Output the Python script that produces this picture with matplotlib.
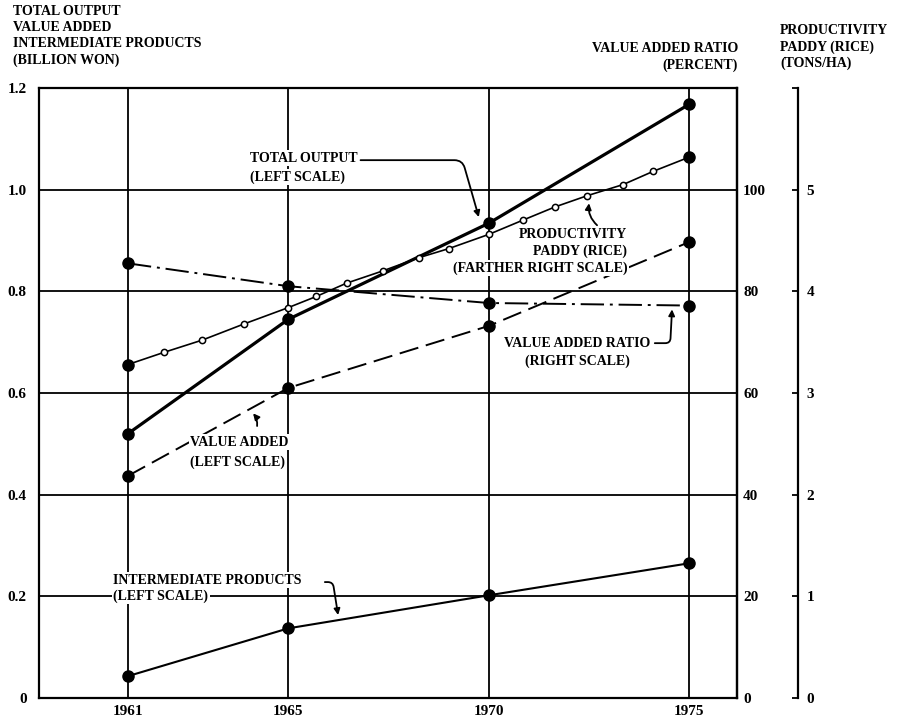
import matplotlib
matplotlib.use('Agg')
import matplotlib.pyplot as plt
import numpy as np

# benchmark years (left scale, billion won)
years = [1961, 1965, 1970, 1975]
total_output = [0.52, 0.745, 0.934, 1.168]
value_added = [0.437, 0.61, 0.732, 0.897]
intermediate = [0.043, 0.137, 0.202, 0.265]

# value added ratio (right scale, percent)
va_ratio = [85.5, 81.0, 77.7, 77.2]

# paddy rice productivity (farther right scale, tons/ha)
paddy_years = [1961, 1961.9, 1962.85, 1963.9, 1965, 1965.7, 1966.45, 1967.35,
               1968.25, 1969, 1970, 1970.85, 1971.65, 1972.45, 1973.35, 1974.1, 1975]
paddy_yield = [3.28, 3.40, 3.52, 3.68, 3.84, 3.95, 4.08, 4.20,
               4.33, 4.42, 4.56, 4.70, 4.83, 4.94, 5.05, 5.18, 5.32]

left_ticks = [0, 0.2, 0.4, 0.6, 0.8, 1.0, 1.2]
left_labels = ['0', '0.2', '0.4', '0.6', '0.8', '1.0', '1.2']
pct_ticks = [0, 20, 40, 60, 80, 100]
ton_ticks = [0, 1, 2, 3, 4, 5, 6]
ton_labels = ['0', '1', '2', '3', '4', '5', '']

plt.rcParams['font.family'] = 'Liberation Serif'
plt.rcParams['font.weight'] = 'bold'
plt.rcParams['font.size'] = 10

fig = plt.figure(figsize=(8.97, 7.2), dpi=100)
ax = fig.add_axes([0.0435, 0.0306, 0.7781, 0.8472])
ax.set_xlim(1958.78, 1976.19)
ax.set_ylim(0, 1.2)
ax.set_xticks(years)
ax.set_xticklabels([str(y) for y in years])
ax.set_yticks(left_ticks)
ax.set_yticklabels(left_labels)
ax.grid(True, color='black', lw=1.3)
ax.set_axisbelow(True)
ax.tick_params(length=0, labelsize=11)
ax.tick_params(axis='y', pad=9)
ax.tick_params(axis='x', pad=5)
for sp in ax.spines.values():
    sp.set_linewidth(1.6)

# percent scale on the box's right edge
ax2 = ax.twinx()
ax2.set_ylim(0, 120)
ax2.set_yticks(pct_ticks)
ax2.tick_params(length=0, pad=4.5, labelsize=11)
for name in ['left', 'top', 'bottom']:
    ax2.spines[name].set_visible(False)
ax2.spines['right'].set_linewidth(1.6)

# tons/ha scale, detached to the right
ax3 = ax.twinx()
ax3.spines['right'].set_position(('axes', 1.0874))
for name in ['left', 'top', 'bottom']:
    ax3.spines[name].set_visible(False)
ax3.spines['right'].set_linewidth(1.6)
ax3.set_ylim(0, 6)
ax3.set_yticks(ton_ticks)
ax3.set_yticklabels(ton_labels)
ax3.tick_params(direction='in', length=4, width=1.3, pad=6, labelsize=11)

# series
ax.plot(years, total_output, '-o', color='black', lw=2.3, ms=8, zorder=3)
ax.plot(years, value_added, '-o', color='black', lw=1.4, ms=8, dashes=(10, 4), zorder=3)
ax.plot(years, intermediate, '-o', color='black', lw=1.5, ms=8, zorder=3)
ax2.plot(years, va_ratio, '-o', color='black', lw=1.4, ms=8, dashes=(12, 3, 1.5, 3))
ax3.plot(paddy_years, paddy_yield, '-o', color='black', lw=1.2, ms=4.5,
         mfc='white', mec='black', mew=1.1)
ax3.plot([paddy_years[0], paddy_years[-1]], [paddy_yield[0], paddy_yield[-1]],
         'o', color='black', ms=8)


def note(x, y, s, ha='left'):
    ax.text(x, y, s, ha=ha, va='center', zorder=3.5,
            bbox=dict(fc='white', ec='none', pad=1))


def pointer(tip, start, style):
    ax.annotate('', xy=tip, xytext=start, zorder=4,
                arrowprops=dict(arrowstyle='-|>', color='black', lw=1.3,
                                mutation_scale=9, shrinkA=0, shrinkB=0,
                                connectionstyle=style))


# total output label
note(1964.04, 1.062, 'TOTAL OUTPUT')
note(1964.04, 1.025, '(LEFT SCALE)')
pointer((1969.75, total_output[2] + 0.012), (1966.8, 1.058),
        'angle,angleA=0,angleB=-74,rad=8')

# productivity label
note(1973.45, 0.9125, 'PRODUCTIVITY', ha='right')
note(1973.45, 0.879, 'PADDY (RICE)', ha='right')
note(1973.45, 0.8456, '(FARTHER RIGHT SCALE)', ha='right')
tip_x = 1972.5
pointer((tip_x, np.interp(tip_x, paddy_years, paddy_yield) / 5 - 0.016),
        (tip_x + 0.2, 0.93), 'arc3,rad=-0.25')

# value added ratio label
note(1972.2, 0.698, 'VALUE ADDED RATIO', ha='center')
note(1972.2, 0.663, '(RIGHT SCALE)', ha='center')
tip_x = 1974.57
pointer((tip_x, np.interp(tip_x, years, va_ratio) / 100 - 0.008), (1974.14, 0.698),
        'angle,angleA=0,angleB=87,rad=5')

# value added label
note(1962.55, 0.503, 'VALUE ADDED')
note(1962.55, 0.464, '(LEFT SCALE)')
tip_x = 1964.12
pointer((tip_x, np.interp(tip_x, years, value_added) - 0.012), (tip_x + 0.1, 0.535),
        'arc3,rad=0.2')

# intermediate products label
note(1960.63, 0.232, 'INTERMEDIATE PRODUCTS')
note(1960.63, 0.2006, '(LEFT SCALE)')
tip_x = 1966.24
pointer((tip_x, np.interp(tip_x, years, intermediate) + 0.01), (1965.91, 0.228),
        'angle,angleA=0,angleB=-81,rad=5')

# scale headings
fig.text(13 / 897, 1 - 5 / 720, 'TOTAL OUTPUT\nVALUE ADDED\nINTERMEDIATE PRODUCTS\n(BILLION WON)',
         ha='left', va='top', linespacing=1.3)
fig.text(738 / 897, 1 - 42 / 720, 'VALUE ADDED RATIO\n(PERCENT)',
         ha='right', va='top', multialignment='right', linespacing=1.3)
fig.text(780 / 897, 1 - 24 / 720, 'PRODUCTIVITY\nPADDY (RICE)\n(TONS/HA)',
         ha='left', va='top', linespacing=1.3)

fig.savefig('out.png', dpi=100)
